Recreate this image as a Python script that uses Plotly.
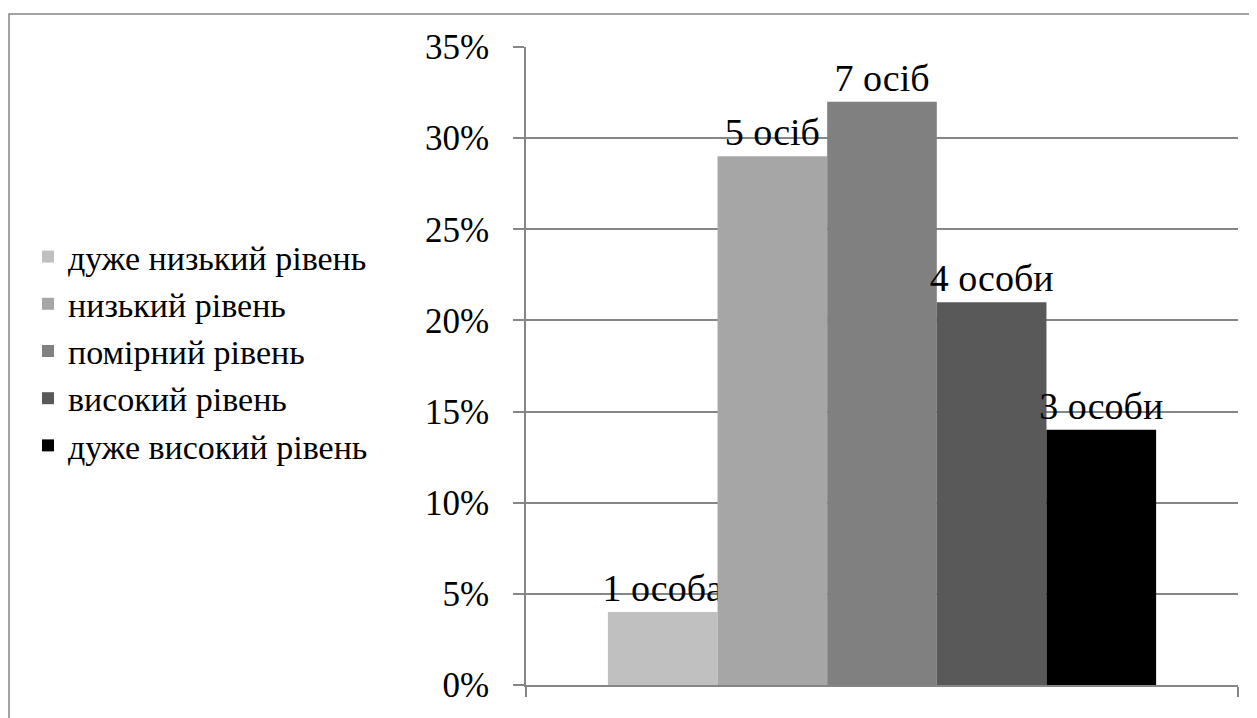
import plotly.graph_objects as go

categories = [" "]
series_names = ["дуже низький рівень", "низький рівень", "помірний рівень", "високий рівень", "дуже високий рівень"]
values = [0.04, 0.29, 0.32, 0.21, 0.14]
labels = ["1 особа", "5 осіб", "7 осіб", "4 особи", "3 особи"]
colors = ["#C0C0C0", "#A6A6A6", "#808080", "#595959", "#000000"]

# page body has an 8px margin; figure sized to fill the rest of the window
W, H = 1249, 710
L, R, T, B = 518, 19, 39, 33
pw, ph = W - L - R, H - T - B

FONT = "Liberation Serif"
GRAY = "#868686"

fig = go.Figure()
for name, v, lab, c in zip(series_names, values, labels, colors):
    fig.add_trace(go.Bar(
        x=categories, y=[v], name=name, text=[lab],
        textposition="outside", texttemplate="%{text}",
        textfont=dict(family=FONT, size=38, color="black"),
        constraintext="none", cliponaxis=False,
        marker=dict(color=c, line=dict(width=0)),
    ))

def px_to_paper_x(px):
    return (px - L) / pw

def px_to_paper_y(py):
    return (H - B - py) / ph

fig.add_shape(type="rect", xref="paper", yref="paper",
              x0=px_to_paper_x(1), x1=px_to_paper_x(1248),
              y0=px_to_paper_y(760), y1=px_to_paper_y(6),
              line=dict(color=GRAY, width=1.5), fillcolor="rgba(0,0,0,0)", layer="below")

fig.update_layout(
    width=W, height=H,
    margin=dict(l=L, r=R, t=T, b=B, pad=0),
    paper_bgcolor="white", plot_bgcolor="white",
    barmode="group", bargap=0.23, bargroupgap=0,
    font=dict(family=FONT, size=35, color="black"),
    showlegend=True,
    legend=dict(
        xref="container", x=20 / W, xanchor="left",
        y=px_to_paper_y(343), yanchor="middle",
        font=dict(family=FONT, size=34, color="black"),
        bgcolor="rgba(0,0,0,0)", traceorder="normal",
        itemclick=False,
    ),
    xaxis=dict(
        type="category", showticklabels=False, ticks="outside", tickson="boundaries",
        ticklen=10, tickcolor=GRAY, tickwidth=1.5, showline=True, linecolor=GRAY, linewidth=1.5,
        showgrid=False, zeroline=False, range=[-0.5, 0.5],
    ),
    yaxis=dict(
        range=[0, 0.35], dtick=0.05, tick0=0, tickformat=".0%",
        ticks="outside", ticklen=11, tickcolor=GRAY, tickwidth=1.5,
        showline=True, linecolor=GRAY, linewidth=1.5,
        showgrid=True, gridcolor=GRAY, gridwidth=1.5, zeroline=False,
        tickfont=dict(family=FONT, size=35, color="black"),
        ticklabelstandoff=17,
    ),
)

fig.write_html("out.html")
